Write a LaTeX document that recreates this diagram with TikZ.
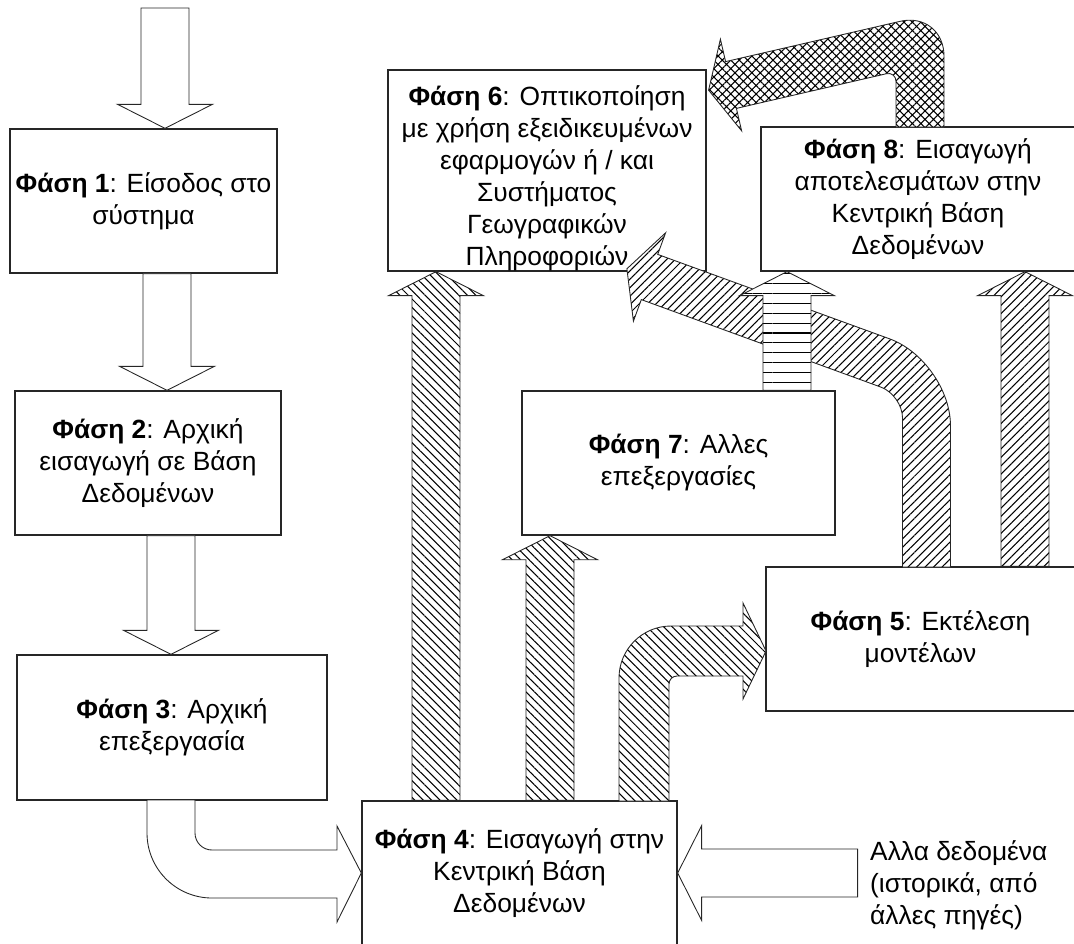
\documentclass[tikz,border=0pt]{standalone}
\usepackage{fontspec}
\setmainfont{Liberation Sans}
\usetikzlibrary{calc, patterns.meta}
\newcommand{\shaftw}{0.48cm}
\newcommand{\headw}{0.95cm}
\newcommand{\headl}{0.48cm}
\tikzset{
  phase/.style={
    rectangle,
    draw=black!85,
    line width=0.8pt,
    fill=white,
    inner sep=2pt,
    align=center,
    font=\fontsize{15}{18.2}\selectfont
  },
  plainarrow/.style={
    draw=black!85,
    line width=0.5pt,
    fill=white
  },
  nwhatch/.style={
    plainarrow,
    preaction={fill=white},
    pattern={Lines[angle=-45,distance=3.4pt,line width=0.6pt]}
  },
  nehatch/.style={
    plainarrow,
    preaction={fill=white},
    pattern={Lines[angle=45,distance=3.4pt,line width=0.6pt]}
  },
  hlhatch/.style={
    plainarrow,
    preaction={fill=white},
    pattern={Lines[angle=0,distance=5.6pt,line width=0.6pt]}
  },
  xhatch/.style={
    plainarrow,
    preaction={fill=white},
    pattern={Hatch[angle=45,distance=3.4pt,line width=0.6pt]}
  },
  straight/.style={
    to path={
      ($(\tikztotarget)!\headl!(\tikztostart)$) coordinate (hb)
      ($(\tikztostart)!\shaftw!90:(\tikztotarget)$)
      -- ($(hb)!\shaftw!90:(\tikztotarget)$)
      -- ($(hb)!\headw!90:(\tikztotarget)$)
      -- (\tikztotarget)
      -- ($(hb)!\headw!-90:(\tikztotarget)$)
      -- ($(hb)!\shaftw!-90:(\tikztotarget)$)
      -- ($(\tikztostart)!\shaftw!-90:(\tikztotarget)$)
      -- cycle
    }
  }
}

\begin{document}
\begin{tikzpicture}[x=0.02cm, y=-0.02cm]

\useasboundingbox (0,0) rectangle (1074,943);
\clip (0,0) rectangle (1074,943);

% Nodes
\node[phase, minimum width=5.34cm, minimum height=2.88cm] (p1) at (143.5,201)
  {\textbf{Φάση 1}: Είσοδος στο\\σύστημα};
\node[phase, minimum width=5.32cm, minimum height=2.88cm] (p2) at (148,463)
  {\textbf{Φάση 2}: Αρχική\\εισαγωγή σε Βάση\\Δεδομένων};
\node[phase, minimum width=6.2cm, minimum height=2.9cm] (p3) at (172,727.5)
  {\textbf{Φάση 3}: Αρχική\\επεξεργασία};
\node[phase, minimum width=6.3cm, minimum height=2.88cm] (p4) at (519.5,873)
  {\textbf{Φάση 4}: Εισαγωγή στην\\Κεντρική Βάση\\Δεδομένων};
\node[phase, minimum width=6.18cm, minimum height=2.88cm] (p5) at (920.5,639)
  {\textbf{Φάση 5}: Εκτέλεση\\μοντέλων};
\node[phase, minimum width=6.36cm, minimum height=4.02cm] (p6) at (547,170.5)
  {\raisebox{-0.17cm}[\height][\depth]{\begin{tabular}{@{}c@{}}
    \textbf{Φάση 6}: Οπτικοποίηση\\με χρήση εξειδικευμένων\\εφαρμογών ή / και\\Συστήματος\\Γεωγραφικών\\Πληροφοριών
  \end{tabular}}};
\node[phase, minimum width=6.26cm, minimum height=2.88cm] (p7) at (678.5,463)
  {\textbf{Φάση 7}: Αλλες\\επεξεργασίες};
\node[phase, minimum width=6.28cm, minimum height=2.88cm] (p8) at (918,199)
  {\textbf{Φάση 8}: Εισαγωγή\\αποτελεσμάτων στην\\Κεντρική Βάση\\Δεδομένων};
\node[anchor=west, align=left, font=\fontsize{15}{18.2}\selectfont] (oth) at (864,885)
  {Αλλα δεδομένα\\(ιστορικά, από\\άλλες πηγές)};

% Arrow columns
\coordinate (in) at (165,8);
\coordinate (c12) at (167,0);
\coordinate (c23) at (171,0);
\coordinate (cA) at (436,0);
\coordinate (cB) at (550,0);
\coordinate (cD) at (787,0);
\coordinate (cF) at (1025,0);
\coordinate (othin) at ($(p4.east)+(180,0)$);

% Left chain
\draw[plainarrow] (in) to[straight] (in |- p1.north);
\draw[plainarrow] (c12 |- p1.south) to[straight] (c12 |- p2.north);
\draw[plainarrow] (c23 |- p2.south) to[straight] (c23 |- p3.north);
\draw[plainarrow] (147,800) [rounded corners=1.3cm] -- (147,898) [sharp corners]
  -- (337,898) -- (337,922) -- (p4.west) -- (337,826)
  -- (337,850) [rounded corners=0.34cm] -- (195,850) [sharp corners] -- (195,800) -- cycle;
\draw[plainarrow] (othin) to[straight] (p4.east);

% Out of Phase 4
\draw[nwhatch] (cA |- p4.north) to[straight] (cA |- p6.south);
\draw[nwhatch] (cB |- p4.north) to[straight] (cB |- p7.south);
\draw[nwhatch] (619,801) [rounded corners=1.04cm] -- (619,626) [sharp corners]
  -- (743,626) -- (743,603) -- (766,651) -- (743,699)
  -- (743,676) [rounded corners=0.16cm] -- (669,676) [sharp corners] -- (669,801) -- cycle;

% Out of Phase 5
\draw[nehatch] (cF |- p5.north) to[straight] (cF |- p8.south);
\draw[nehatch] (902.5,567) [rounded corners=0.46cm] -- (902.5,395) [sharp corners]
  -- (641.3,299.6) -- (633.4,321.2) -- (626.9,268.8) -- (665.6,232.8)
  -- (657.7,254.4) [rounded corners=1.3cm] -- (950.5,361) [sharp corners] -- (950.5,567) -- cycle;

% Phase 7 -> Phase 8
\draw[hlhatch] (cD |- p7.north) to[straight] (cD |- p8.south);

% Phase 8 -> Phase 6
\draw[xhatch] (896,127) [rounded corners=0.2cm] -- (896,71.5) [sharp corners]
  -- (736.4,108.4) -- (741.6,130.8) -- (708.6,90.2) -- (720.4,39.2)
  -- (725.6,61.6) [rounded corners=0.9cm] -- (944,11.2) [sharp corners] -- (944,127) -- cycle;

\end{tikzpicture}
\end{document}
